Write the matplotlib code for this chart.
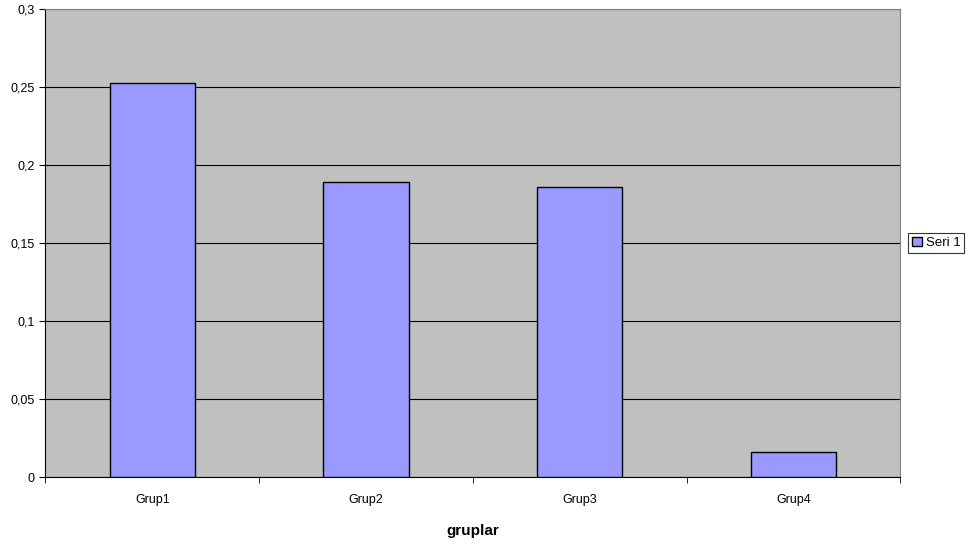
import matplotlib.pyplot as plt
import numpy as np

# Group values for the single series
groups = ['Grup1', 'Grup2', 'Grup3', 'Grup4']
seri1 = [0.2526, 0.189, 0.186, 0.0162]
yticks = [0, 0.05, 0.1, 0.15, 0.2, 0.25, 0.3]
ytick_labels = ['0', '0,05', '0,1', '0,15', '0,2', '0,25', '0,3']

plt.rcParams['font.family'] = ['Liberation Sans', 'DejaVu Sans']

fig = plt.figure(figsize=(9.68, 5.44), dpi=100)
ax = fig.add_axes([0.047, 0.123, 0.883, 0.860])
ax.set_facecolor('#C0C0C0')

x = np.arange(len(groups))
ax.bar(x, seri1, width=0.4, color='#9999FF', edgecolor='black', linewidth=1,
       label='Seri 1', zorder=3)

ax.set_xlim(-0.5, len(groups) - 0.5)
ax.set_ylim(0, 0.3)
ax.set_yticks(yticks)
ax.set_yticklabels(ytick_labels, fontsize=9)
ax.yaxis.grid(True, color='black', linewidth=0.8, zorder=1)
ax.set_axisbelow(True)

# category labels centred, tick marks on the boundaries
ax.set_xticks(x)
ax.set_xticklabels(groups, fontsize=9)
ax.tick_params(axis='x', length=0, pad=12)
ax.set_xticks(np.arange(len(groups) + 1) - 0.5, minor=True)
ax.tick_params(axis='x', which='minor', length=4, direction='out', color='black')
ax.tick_params(axis='y', length=4, direction='out', pad=4)

for side in ['top', 'right']:
    ax.spines[side].set_color('#808080')
for side in ['left', 'bottom']:
    ax.spines[side].set_color('black')

ax.set_xlabel('gruplar', fontsize=11, fontweight='bold', labelpad=13)

leg = ax.legend(loc='center left', bbox_to_anchor=(1.005, 0.5), fontsize=9.5,
                frameon=True, fancybox=False, handlelength=0.7, handleheight=0.7,
                handletextpad=0.3, borderpad=0.3, borderaxespad=0.3)
leg.get_frame().set_edgecolor('black')
leg.get_frame().set_linewidth(0.8)

fig.savefig('out.png', dpi=100)
